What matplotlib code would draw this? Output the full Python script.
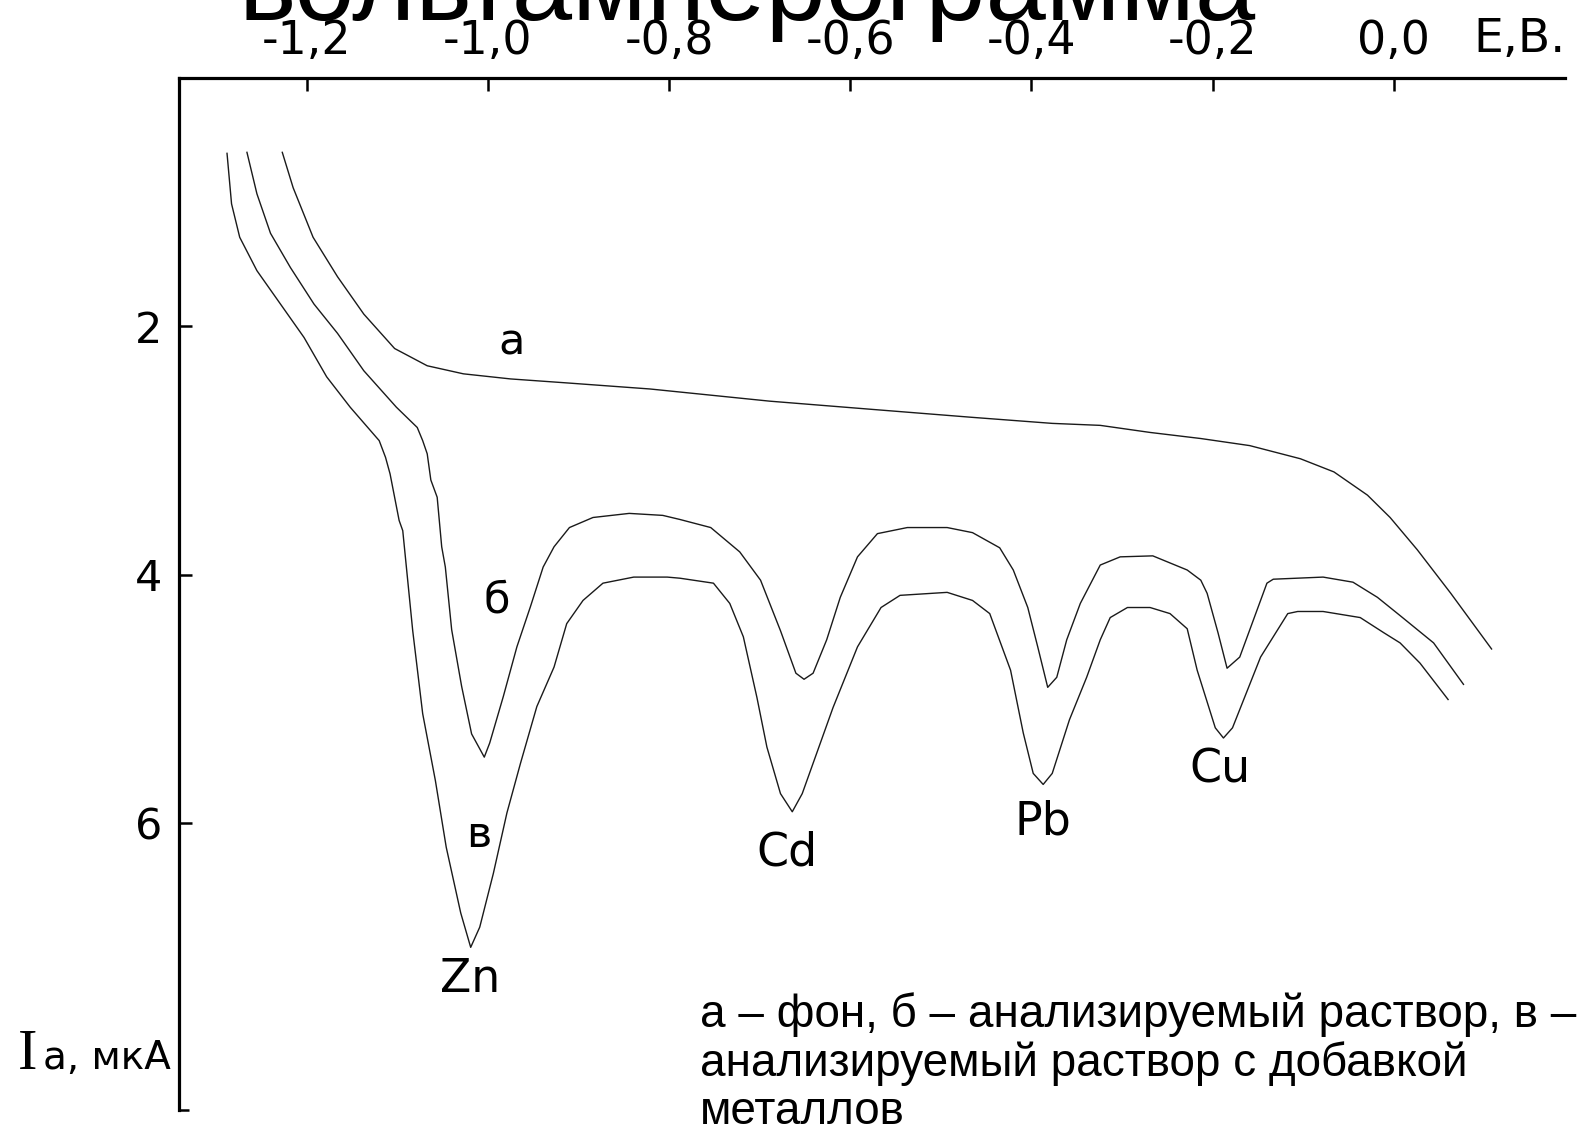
import matplotlib
matplotlib.use("Agg")
import matplotlib.pyplot as plt
from matplotlib.ticker import FixedLocator

# curve a - background electrolyte
e_bg = [-1.227, -1.215, -1.193, -1.166, -1.137, -1.103, -1.067, -1.027, -0.975,
        -0.913, -0.821, -0.689, -0.578, -0.466, -0.377, -0.324, -0.269, -0.213,
        -0.159, -0.103, -0.066, -0.029, -0.004, 0.026, 0.063, 0.108]
i_bg = [0.599, 0.884, 1.283, 1.601, 1.902, 2.179, 2.318, 2.383, 2.424,
        2.456, 2.505, 2.603, 2.668, 2.733, 2.782, 2.798, 2.855, 2.904,
        2.961, 3.067, 3.173, 3.360, 3.540, 3.800, 4.151, 4.599]

# curve б - sample solution
e_sample = [-1.266, -1.255, -1.240, -1.218, -1.192, -1.166, -1.137, -1.101, -1.078,
            -1.072, -1.067, -1.063, -1.056, -1.051, -1.047, -1.040, -1.029, -1.018,
            -1.004, -0.998, -0.983, -0.968, -0.953, -0.939, -0.927, -0.910, -0.884,
            -0.844, -0.807, -0.788, -0.754, -0.722, -0.699, -0.677, -0.660, -0.651,
            -0.641, -0.626, -0.611, -0.592, -0.570, -0.537, -0.493, -0.465, -0.435,
            -0.420, -0.404, -0.393, -0.382, -0.372, -0.361, -0.346, -0.324, -0.302,
            -0.266, -0.228, -0.213, -0.206, -0.194, -0.184, -0.170, -0.140, -0.133,
            -0.078, -0.045, -0.018, 0.007, 0.044, 0.077]
i_sample = [0.599, 0.933, 1.251, 1.527, 1.821, 2.057, 2.358, 2.652, 2.815,
            2.921, 3.027, 3.238, 3.377, 3.776, 3.939, 4.444, 4.900, 5.283,
            5.470, 5.356, 4.982, 4.582, 4.257, 3.939, 3.776, 3.621, 3.540,
            3.507, 3.523, 3.556, 3.621, 3.817, 4.045, 4.452, 4.794, 4.843,
            4.794, 4.525, 4.183, 3.857, 3.670, 3.621, 3.621, 3.662, 3.784,
            3.963, 4.265, 4.582, 4.908, 4.827, 4.525, 4.232, 3.923, 3.857,
            3.849, 3.963, 4.045, 4.151, 4.468, 4.754, 4.664, 4.069, 4.037,
            4.020, 4.061, 4.183, 4.330, 4.550, 4.884]

# curve в - sample solution with metal additions
e_spiked = [-1.288, -1.283, -1.274, -1.255, -1.229, -1.203, -1.178, -1.152, -1.120,
            -1.113, -1.108, -1.098, -1.094, -1.083, -1.072, -1.058, -1.046, -1.030,
            -1.019, -1.009, -0.994, -0.979, -0.964, -0.946, -0.927, -0.913, -0.895,
            -0.873, -0.839, -0.802, -0.788, -0.751, -0.733, -0.718, -0.703, -0.692,
            -0.677, -0.664, -0.653, -0.637, -0.619, -0.592, -0.566, -0.545, -0.493,
            -0.465, -0.446, -0.423, -0.409, -0.398, -0.387, -0.377, -0.358, -0.339,
            -0.324, -0.313, -0.294, -0.269, -0.247, -0.228, -0.217, -0.197, -0.188,
            -0.178, -0.147, -0.117, -0.106, -0.078, -0.037, -0.011, 0.007, 0.029, 0.060]
i_spiked = [0.607, 1.014, 1.283, 1.552, 1.821, 2.090, 2.407, 2.652, 2.921,
            3.056, 3.189, 3.564, 3.646, 4.452, 5.120, 5.658, 6.196, 6.725,
            7.002, 6.839, 6.407, 5.919, 5.519, 5.063, 4.745, 4.395, 4.208,
            4.069, 4.020, 4.020, 4.029, 4.069, 4.232, 4.501, 4.990, 5.389,
            5.764, 5.910, 5.764, 5.438, 5.071, 4.582, 4.265, 4.167, 4.143,
            4.208, 4.314, 4.770, 5.275, 5.601, 5.690, 5.601, 5.169, 4.827,
            4.525, 4.346, 4.265, 4.265, 4.314, 4.436, 4.770, 5.234, 5.316,
            5.234, 4.664, 4.314, 4.297, 4.297, 4.346, 4.468, 4.550, 4.713, 5.006]

x_ticks = [-1.2, -1.0, -0.8, -0.6, -0.4, -0.2, 0.0]
x_tick_labels = ["-1,2", "-1,0", "-0,8", "-0,6", "-0,4", "-0,2", "0,0"]
y_ticks = [2, 4, 6]
y_tick_labels = ["2", "4", "6"]

curve_labels = ["а", "б", "в"]
curve_label_pos = [(-0.974, 2.13), (-0.990, 4.21), (-1.010, 6.10)]
metals = ["Zn", "Cd", "Pb", "Cu"]
metal_label_pos = [(-1.020, 7.26), (-0.670, 6.24), (-0.387, 5.99), (-0.192, 5.57)]

plt.rcParams["font.family"] = ["Liberation Sans", "DejaVu Sans"]
plot_font = ["DejaVu Sans"]

fig = plt.figure(figsize=(15.87, 11.31), dpi=100)
ax = fig.add_axes([0.1128, 0.01857, 0.8733, 0.9125])
ax.patch.set_alpha(0.0)

for e, i in [(e_bg, i_bg), (e_sample, i_sample), (e_spiked, i_spiked)]:
    ax.plot(e, i, color="#1a1a1a", linewidth=1.0)

ax.set_xlim(-1.341, 0.189)
ax.set_ylim(8.312, 0.0)

for side in ["right", "bottom"]:
    ax.spines[side].set_visible(False)
for side in ["top", "left"]:
    ax.spines[side].set_linewidth(2.3)

ax.xaxis.tick_top()
ax.set_xticks(x_ticks)
ax.set_xticklabels(x_tick_labels, family=plot_font)
ax.set_yticks(y_ticks)
ax.set_yticklabels(y_tick_labels, family=plot_font)
ax.yaxis.set_minor_locator(FixedLocator([8.31]))
ax.tick_params(axis="x", which="major", direction="in", length=9, width=1.8,
               labelsize=33, pad=10)
ax.tick_params(axis="y", which="major", direction="in", length=9, width=1.8,
               labelsize=31, pad=12)
ax.tick_params(axis="y", which="minor", direction="in", length=7, width=1.8)

for txt, (x, y) in zip(curve_labels, curve_label_pos):
    ax.text(x, y, txt, fontsize=31, family=plot_font, ha="center", va="center")
for txt, (x, y) in zip(metals, metal_label_pos):
    ax.text(x, y, txt, fontsize=33, family=plot_font, ha="center", va="center")

ax.text(0.139, -0.31, "E,B.", fontsize=34, family=plot_font,
        ha="center", va="center", clip_on=False)

# axis caption bottom left
fig.text(0.011, 0.055, "I", fontsize=42, family=["Liberation Serif"], va="baseline")
fig.text(0.027, 0.055, "а, мкА", fontsize=28, family=plot_font, va="baseline")

# heading, mostly above the top edge of the figure
fig.text(0.471, 0.982, "вольтамперограмма", fontsize=78, ha="center",
         va="baseline", zorder=-1)

fig.text(0.441, 0.123,
         "а – фон, б – анализируемый раствор, в –\n"
         "анализируемый раствор с добавкой\n"
         "металлов",
         fontsize=33, ha="left", va="top", linespacing=1.12)

fig.savefig("out.png", dpi=100)
